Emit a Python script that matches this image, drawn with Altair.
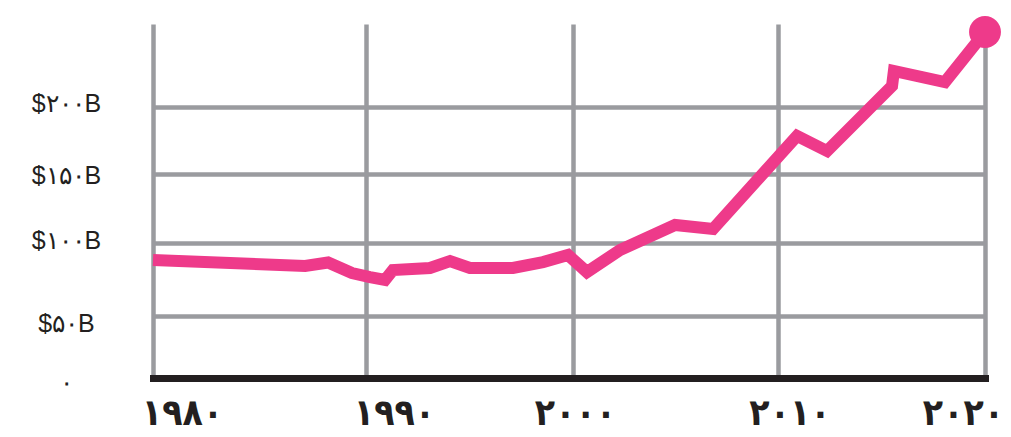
import altair as alt
import pandas as pd

# ---- data ----
years = [1980.0, 1987.14, 1988.22, 1989.34, 1990.19, 1990.92, 1991.30, 1993.09, 1994.06,
         1995.02, 1997.10, 1998.55, 1999.76, 2000.68, 2002.30, 2004.99, 2006.85,
         2010.94, 2012.39, 2015.52, 2015.61, 2018.07, 2020.0]
values = [88.1, 84.0, 86.4, 79.2, 76.5, 74.5, 81.3, 82.7, 87.4,
          82.7, 82.7, 86.7, 91.5, 79.9, 94.9, 112.7, 109.8,
          178.2, 166.9, 215.8, 227.1, 218.8, 256.4]

x_ticks = [1980, 1990, 2000, 2010, 2020]
x_labels = ["۱۹۸۰", "۱۹۹۰", "۲۰۰۰", "۲۰۱۰", "۲۰۲۰"]
y_ticks = [0, 50, 100, 150, 200]
y_labels = ["۰", "$۵۰B", "$۱۰۰B", "$۱۵۰B", "$۲۰۰B"]

PINK = "#EE3A8A"
GRID = "#9A9B9F"
INK = "#231F20"

W, H = 832, 354
# the original's gridlines are unevenly spaced -> piecewise linear scales
x_domain = [1980, 1990, 2000, 2010, 2020]
x_range = [0, 213, 420, 624.5, W]
y_domain = [0, 50, 100, 150, 200, 262.4]
y_range = [H, 292, 218.5, 149.5, 83, 0]


def label_expr(ticks, labels):
    expr = "''"
    for t, l in reversed(list(zip(ticks, labels))):
        expr = f"datum.value == {t} ? '{l}' : ({expr})"
    return expr


def cond_offset(offsets):
    return {"condition": [{"test": f"datum.value == {k}", "value": v}
                          for k, v in offsets.items()], "value": 0}


x_offsets = {1980: 29, 1990: 28, 2000: 2, 2010: 12, 2020: -22}
y_offsets = {0: 4.5, 50: 7, 100: -2.5, 150: 1.5, 200: -4}

df = pd.DataFrame({"year": years, "value": values})
end = df.tail(1)

x_enc = alt.X(
    "year:Q",
    scale=alt.Scale(domain=x_domain, range=x_range, nice=False, zero=False),
    axis=alt.Axis(
        values=x_ticks,
        labelExpr=label_expr(x_ticks, x_labels),
        title=None,
        grid=True, gridColor=GRID, gridWidth=4.5,
        domain=True, domainColor=INK, domainWidth=7, domainCap="square",
        ticks=False, tickSize=0,
        labelFont="DejaVu Sans Condensed", labelFontWeight="bold",
        labelFontSize=37, labelColor=INK,
        labelBaseline="top", labelPadding=17,
        labelFlush=False, labelOverlap=False,
        labelOffset=cond_offset(x_offsets),
    ),
)

y_enc = alt.Y(
    "value:Q",
    scale=alt.Scale(domain=y_domain, range=y_range, nice=False, zero=False),
    axis=alt.Axis(
        values=y_ticks,
        labelExpr=label_expr(y_ticks, y_labels),
        title=None,
        grid=True, gridColor=GRID, gridWidth=4.5,
        gridOpacity={"condition": {"test": "datum.value == 0", "value": 0}, "value": 1},
        domain=False, ticks=False, tickSize=0,
        labelFont="Liberation Sans", labelFontSize=25, labelColor=INK,
        labelAlign="center", labelBaseline="middle", labelPadding=87,
        labelOverlap=False,
        labelOffset=cond_offset(y_offsets),
    ),
)

line = alt.Chart(df).mark_line(
    color=PINK, strokeWidth=12, strokeJoin="miter", strokeCap="butt", strokeMiterLimit=10
).encode(x=x_enc, y=y_enc)

dot = alt.Chart(end).mark_circle(color=PINK, size=1018, opacity=1).encode(
    x="year:Q", y="value:Q"
)

chart = (
    alt.layer(line, dot)
    .properties(
        width=W, height=H,
        autosize=alt.AutoSizeParams(type="none"),
        padding={"left": 145, "top": 16, "right": 18, "bottom": 56},
        background="white",
    )
    .configure_view(stroke=None)
)

chart.save("out.html", embed_options={"renderer": "svg", "actions": False})
